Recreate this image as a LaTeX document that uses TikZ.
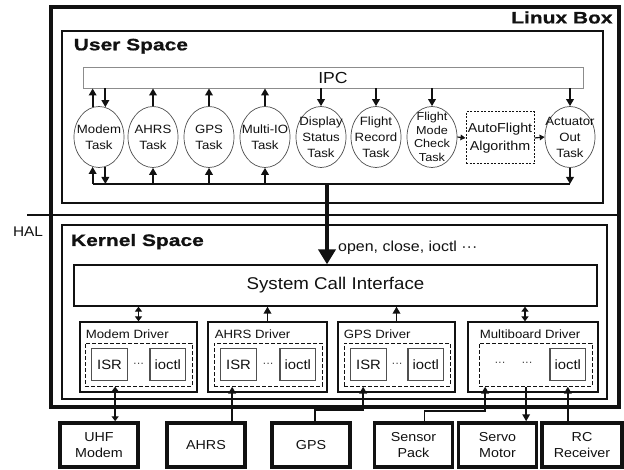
\documentclass[tikz,border=0pt]{standalone}
\usepackage{fontspec}
\setmainfont[FakeStretch=1.1]{Liberation Sans}
\newfontfamily\headfont[FakeStretch=1.27,FakeBold=1]{Liberation Sans}
\usetikzlibrary{positioning, arrows.meta, shapes.geometric, calc}
\definecolor{clrink}{HTML}{111111}
\definecolor{clrgrayline}{HTML}{8C8C8C}
\definecolor{clrsoft}{HTML}{505050}

\begin{document}
\begin{tikzpicture}[
    x=1pt, y=-1pt,
    every node/.style={text=clrink},
    heading/.style={font=\headfont\bfseries\fontsize{16.5}{16.5}\selectfont, inner sep=0pt},
    taskell/.style={ellipse, draw=clrsoft, line width=0.7pt, minimum width=50pt, minimum height=61pt,
                    inner sep=-12pt, align=center, font=\fontsize{12}{16}\selectfont},
    arrow/.style={-{Triangle[length=7pt,width=7.5pt]}, line width=1.9pt, draw=clrink},
    dblarrow/.style={{Triangle[length=5pt,width=7pt]}-{Triangle[length=5pt,width=7pt]}, line width=1.9pt, draw=clrink},
    smallarrow/.style={-{Triangle[length=5pt,width=5.5pt]}, line width=1.2pt, draw=clrink},
    bus/.style={line width=2.4pt, draw=clrink},
    bigarrow/.style={-{Triangle[length=15pt,width=17pt]}, line width=4.5pt, draw=clrink},
    drvbox/.style={draw=clrink, line width=1.3pt, minimum height=70pt},
    dashbox/.style={draw=clrink, dash pattern=on 4pt off 2pt, line width=1pt, minimum height=43pt},
    partbox/.style={draw=clrsoft, line width=1.2pt, minimum width=35.5pt, minimum height=32pt,
                    font=\fontsize{13.5}{13.5}\selectfont, inner sep=0pt},
    drvlabel/.style={font=\fontsize{12}{12}\selectfont, inner sep=0pt},
    dotsep/.style={font=\fontsize{10}{10}\selectfont, inner sep=0pt},
    devbox/.style={draw=clrink, line width=3.5pt, minimum width=78pt, minimum height=44pt, align=center,
                   font=\fontsize{13}{15.5}\selectfont},
]
\useasboundingbox (0,0) rectangle (624,470);
\node[draw=clrink, line width=3.5pt, minimum width=568pt, minimum height=400pt] (linux_box) at (335,207) {};
\node[draw=clrink, line width=2.8pt, minimum width=541pt, minimum height=172pt] (user_box) at (332.5,117) {};
\node[draw=clrink, line width=2.4pt, minimum width=545pt, minimum height=174pt] (kernel_box) at (334.5,312) {};
\node[heading, below left=6pt and 8pt of linux_box.north east] (linux_title) {Linux Box};
\node[heading, below right=9pt and 13pt of user_box.north west] (user_title) {User Space};
\node[heading, below right=10pt and 10pt of kernel_box.north west] (kernel_title) {Kernel Space};
\coordinate (hal_l) at (27,215);
\draw[line width=1.5pt, draw=clrink] (hal_l) -- (linux_box.east |- hal_l);
\node[font=\fontsize{14}{14}\selectfont, inner sep=0pt] (hal_label) at (28,232) {HAL};
\node[draw=clrgrayline, line width=0.9pt, minimum width=500pt, minimum height=21pt, font=\fontsize{16}{16}\selectfont, inner sep=0pt] (ipc) at (333,77.5) {IPC};
\node[taskell] (task_modem) at (99,137) {Modem\\Task};
\node[taskell] (task_ahrs) at (153,137) {AHRS\\Task};
\node[taskell] (task_gps) at (209,137) {GPS\\Task};
\node[taskell] (task_mio) at (265,137) {Multi-IO\\Task};
\node[taskell] (task_disp) at (321,137) {Display\\Status\\Task};
\node[taskell] (task_rec) at (376,137) {Flight\\Record\\Task};
\node[taskell, font=\fontsize{11.5}{13.5}\selectfont] (task_mode) at (432,137) {Flight\\Mode\\Check\\Task};
\node[draw=clrink, line width=1pt, dash pattern=on 2pt off 1.5pt, minimum width=68pt, minimum height=52pt, align=center, font=\fontsize{13}{18}\selectfont, inner sep=0pt] (auto_alg) at (500,138) {AutoFlight\\Algorithm};
\node[taskell] (task_act) at (570,137) {Actuator\\Out\\Task};
\coordinate (bus_y) at (0,184);
\coordinate (hal_drop) at (327,184);
\draw[bus] (task_modem.258 |- bus_y) -- (task_act.south |- bus_y);
\draw[arrow] (task_modem.102) -- (task_modem.102 |- ipc.south);
\draw[arrow] (task_modem.78 |- ipc.south) -- (task_modem.78);
\draw[arrow] (task_ahrs.north) -- (task_ahrs.north |- ipc.south);
\draw[arrow] (task_gps.north) -- (task_gps.north |- ipc.south);
\draw[arrow] (task_mio.north) -- (task_mio.north |- ipc.south);
\draw[arrow] (task_disp.north |- ipc.south) -- (task_disp.north);
\draw[arrow] (task_rec.north |- ipc.south) -- (task_rec.north);
\draw[arrow] (task_mode.north |- ipc.south) -- (task_mode.north);
\draw[arrow] (task_act.north |- ipc.south) -- (task_act.north);
\draw[arrow] (task_modem.258 |- bus_y) -- (task_modem.258);
\draw[arrow] (task_modem.282) -- (task_modem.282 |- bus_y);
\draw[arrow] (task_ahrs.south |- bus_y) -- (task_ahrs.south);
\draw[arrow] (task_gps.south |- bus_y) -- (task_gps.south);
\draw[arrow] (task_mio.south |- bus_y) -- (task_mio.south);
\draw[arrow] (task_act.south) -- (task_act.south |- bus_y);
\draw[smallarrow] (task_mode.east) -- (auto_alg.west);
\draw[smallarrow] (auto_alg.east) -- (task_act.west);
\node[draw=clrink, line width=1.3pt, minimum width=523pt, minimum height=41pt, font=\fontsize{17}{17}\selectfont] (sci) at (335.5,285.5) {System Call Interface};
\draw[bigarrow] (hal_drop) -- (hal_drop |- sci.north);
\node[font=\fontsize{14.5}{14.5}\selectfont, anchor=west, inner sep=0pt] (sys_calls) at (338,248) {open, close, ioctl ···};
\node[drvbox, minimum width=117pt] (drv_modem) at (138.5,357) {};
\node[drvbox, minimum width=119pt] (drv_ahrs) at (267.5,357) {};
\node[drvbox, minimum width=117pt] (drv_gps) at (396.5,357) {};
\node[drvbox, minimum width=130pt] (drv_multi) at (533,357) {};
\node[dashbox, minimum width=107pt, above left=6pt and 5pt of drv_modem.south east] (dash_modem) {};
\node[dashbox, minimum width=108pt, above left=6pt and 5pt of drv_ahrs.south east] (dash_ahrs) {};
\node[dashbox, minimum width=106pt, above left=6pt and 5pt of drv_gps.south east] (dash_gps) {};
\node[dashbox, minimum width=113pt, above left=6pt and 6pt of drv_multi.south east] (dash_multi) {};
\node[drvlabel, above right=3.5pt and 1pt of dash_modem.north west] (lbl_modem) {Modem Driver};
\node[drvlabel, above right=3.5pt and 1pt of dash_ahrs.north west] (lbl_ahrs) {AHRS Driver};
\node[drvlabel, above right=3.5pt and 0pt of dash_gps.north west] (lbl_gps) {GPS Driver};
\node[drvlabel, above right=3.5pt and 1pt of dash_multi.north west] (lbl_multi) {Multiboard Driver};
\node[partbox, right=6.5pt of dash_modem.west] (isr_modem) {ISR};
\node[partbox, left=6.5pt of dash_modem.east] (ioctl_modem) {ioctl};
\node[dotsep] (dots_modem) at ($(isr_modem)!0.5!(ioctl_modem)$) {···};
\node[partbox, right=6.5pt of dash_ahrs.west] (isr_ahrs) {ISR};
\node[partbox, left=6.5pt of dash_ahrs.east] (ioctl_ahrs) {ioctl};
\node[dotsep] (dots_ahrs) at ($(isr_ahrs)!0.5!(ioctl_ahrs)$) {···};
\node[partbox, right=6.5pt of dash_gps.west] (isr_gps) {ISR};
\node[partbox, left=6.5pt of dash_gps.east] (ioctl_gps) {ioctl};
\node[dotsep] (dots_gps) at ($(isr_gps)!0.5!(ioctl_gps)$) {···};
\node[partbox, left=6.5pt of dash_multi.east] (ioctl_multi) {ioctl};
\node[dotsep] (dots_multi_b) at (527,364) {···};
\node[dotsep] (dots_multi_a) at (500,364) {···};
\draw[dblarrow] (drv_modem.north |- sci.south) -- (drv_modem.north);
\draw[arrow] (drv_ahrs.north) -- (drv_ahrs.north |- sci.south);
\draw[arrow] (drv_gps.north) -- (drv_gps.north |- sci.south);
\draw[dblarrow] ([xshift=-8pt]drv_multi.north |- sci.south) -- ([xshift=-8pt]drv_multi.north);
\node[devbox] (dev_uhf) at (99,445) {UHF\\Modem};
\node[devbox] (dev_ahrs) at (206,445) {AHRS};
\node[devbox] (dev_gps) at (311,445) {GPS};
\node[devbox] (dev_sensor) at (413.5,445) {Sensor\\Pack};
\node[devbox] (dev_servo) at (497.5,445) {Servo\\Motor};
\node[devbox, minimum width=80pt] (dev_rc) at (582,445) {RC\\Receiver};
\draw[dblarrow] ([xshift=-23.5pt]dash_modem.south) -- ([xshift=-23.5pt]dash_modem.south |- dev_uhf.north);
\draw[arrow] ([xshift=-36pt]dash_ahrs.south |- dev_ahrs.north) -- ([xshift=-36pt]dash_ahrs.south);
\draw[arrow] ([xshift=4pt]dev_gps.north) -- ++(0,-11) -| ([xshift=-34pt]dash_gps.south);
\draw[arrow] ([xshift=11pt]dev_sensor.north) -- ++(0,-10) -| ([xshift=-50.5pt]dash_multi.south);
\draw[arrow] ([xshift=-9.5pt]dash_multi.south) -- ([xshift=-9.5pt]dash_multi.south |- dev_servo.north);
\draw[arrow] (ioctl_multi.south |- dev_rc.north) -- (ioctl_multi.south |- dash_multi.south);
\end{tikzpicture}
\end{document}
